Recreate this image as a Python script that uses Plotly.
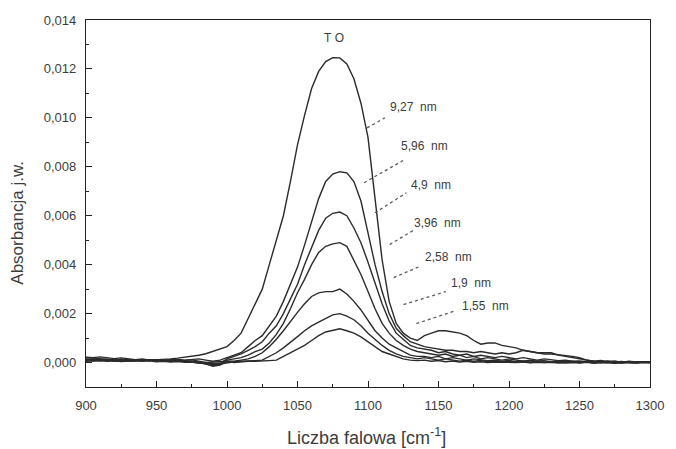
import plotly.graph_objects as go

# Wavenumber grid [cm^-1]
wavenumber = list(range(900, 1305, 5))

# FTIR absorbance spectra (TO band) for different layer thicknesses
abs_9_27 = [
    1.5e-4, 1.2e-4, 1.0e-4, 0.7e-4, 0.6e-4, 0.5e-4, 0.4e-4, 0.6e-4, 0.8e-4, 0.9e-4,
    1.1e-4, 1.3e-4, 1.5e-4, 1.8e-4, 2.1e-4, 2.5e-4, 3.0e-4, 3.6e-4, 4.5e-4, 5.5e-4,
    6.5e-4, 9.0e-4, 12e-4, 18e-4, 24e-4, 30e-4, 40e-4, 50e-4, 60e-4, 74e-4,
    89e-4, 101e-4, 112e-4, 119e-4, 123e-4, 124.6e-4, 124.5e-4, 122e-4, 116e-4, 106e-4,
    92e-4, 67e-4, 42e-4, 25e-4, 16e-4, 12e-4, 10e-4, 9e-4, 11e-4, 12e-4,
    13e-4, 13e-4, 12.5e-4, 12e-4, 11e-4, 9e-4, 7.5e-4, 8e-4, 8e-4, 7e-4,
    6.5e-4, 6e-4, 5e-4, 4.5e-4, 4e-4, 3.5e-4, 3.5e-4, 3.2e-4, 3e-4, 2.5e-4,
    2e-4, 1e-4, 0.5e-4, 0.8e-4, 0.3e-4, 0.6e-4, 0.0, 0.5e-4, 0.2e-4, 0.4e-4, 0.3e-4,
]
abs_5_96 = [
    1.0e-4, 1.3e-4, 0.9e-4, 1.1e-4, 0.8e-4, 1.0e-4, 0.7e-4, 0.9e-4, 1.0e-4, 1.2e-4,
    1.0e-4, 0.8e-4, 1.1e-4, 1.3e-4, 1.0e-4, 1.2e-4, 1.5e-4, 1.0e-4, 0.5e-4, 1.0e-4,
    2e-4, 3e-4, 4e-4, 6.5e-4, 9e-4, 11e-4, 15e-4, 19e-4, 25e-4, 32e-4,
    39e-4, 48e-4, 58e-4, 67e-4, 74e-4, 77e-4, 78e-4, 77.5e-4, 74e-4, 66e-4,
    53e-4, 40e-4, 29e-4, 20e-4, 14e-4, 11e-4, 8.5e-4, 7.5e-4, 6.5e-4, 6e-4,
    5.5e-4, 5e-4, 5e-4, 4.5e-4, 4.5e-4, 4e-4, 4.5e-4, 4e-4, 3.5e-4, 4e-4,
    3.5e-4, 4e-4, 5e-4, 4.5e-4, 4e-4, 4e-4, 4e-4, 3e-4, 2.5e-4, 2e-4,
    1.5e-4, 1e-4, 0.5e-4, 0.3e-4, 0.6e-4, 0.2e-4, 0.4e-4, 0.0, 0.3e-4, 0.1e-4, 0.2e-4,
]
abs_4_9 = [
    2.0e-4, 1.8e-4, 1.5e-4, 1.6e-4, 1.2e-4, 1.0e-4, 1.1e-4, 0.8e-4, 0.9e-4, 0.7e-4,
    1.0e-4, 0.8e-4, 1.2e-4, 1.0e-4, 0.9e-4, 1.1e-4, 0.6e-4, 0.2e-4, -0.5e-4, -0.3e-4,
    1.5e-4, 2.5e-4, 3.5e-4, 5e-4, 6.5e-4, 8.5e-4, 12e-4, 15e-4, 20e-4, 26e-4,
    32e-4, 40e-4, 47e-4, 54e-4, 59e-4, 61e-4, 61.5e-4, 60e-4, 55e-4, 49e-4,
    41e-4, 32e-4, 24e-4, 17e-4, 12e-4, 9.5e-4, 7e-4, 6e-4, 5.5e-4, 5e-4,
    4e-4, 4.5e-4, 3.5e-4, 3e-4, 3.5e-4, 2.5e-4, 3e-4, 2.5e-4, 2e-4, 2.5e-4,
    2e-4, 1.5e-4, 2e-4, 1.5e-4, 1e-4, 1.5e-4, 1e-4, 0.8e-4, 1e-4, 0.5e-4,
    0.6e-4, 0.3e-4, 0.5e-4, 0.0, 0.4e-4, -0.2e-4, 0.3e-4, 0.1e-4, -0.1e-4, 0.2e-4, 0.0,
]
abs_3_96 = [
    0.5e-4, 0.8e-4, 0.6e-4, 0.9e-4, 1.0e-4, 0.7e-4, 1.0e-4, 1.2e-4, 0.9e-4, 1.1e-4,
    0.8e-4, 1.0e-4, 0.7e-4, 0.9e-4, 0.6e-4, 0.4e-4, 0.2e-4, -0.6e-4, -1.2e-4, -0.8e-4,
    1e-4, 1.5e-4, 2e-4, 3e-4, 4.5e-4, 5.5e-4, 8e-4, 11.5e-4, 16e-4, 22e-4,
    28.5e-4, 34e-4, 40e-4, 45e-4, 47.5e-4, 48.5e-4, 49e-4, 47.5e-4, 42e-4, 36e-4,
    29e-4, 22e-4, 16e-4, 12e-4, 9e-4, 7e-4, 5.5e-4, 4.5e-4, 4e-4, 3.5e-4,
    3e-4, 3.5e-4, 2.5e-4, 3e-4, 2e-4, 2.5e-4, 1.5e-4, 2e-4, 1.5e-4, 1e-4,
    1.5e-4, 1e-4, 0.5e-4, 1e-4, 0.6e-4, 0.8e-4, 0.3e-4, 0.6e-4, 0.2e-4, 0.5e-4,
    0.0, 0.3e-4, -0.2e-4, 0.2e-4, 0.0, 0.3e-4, -0.1e-4, 0.1e-4, 0.2e-4, 0.0, 0.1e-4,
]
abs_2_58 = [
    2.2e-4, 2.0e-4, 2.3e-4, 1.8e-4, 1.6e-4, 1.9e-4, 1.4e-4, 1.2e-4, 1.5e-4, 1.0e-4,
    1.2e-4, 0.9e-4, 0.6e-4, 0.8e-4, 0.5e-4, 0.3e-4, 0.0, -0.5e-4, -1.5e-4, -1.0e-4,
    0.5e-4, 0.5e-4, 1e-4, 1.5e-4, 2.5e-4, 4e-4, 6.5e-4, 9.5e-4, 13e-4, 17e-4,
    20.5e-4, 24e-4, 27e-4, 28.5e-4, 29e-4, 29e-4, 30e-4, 28e-4, 25e-4, 21.5e-4,
    17e-4, 13e-4, 10e-4, 7.5e-4, 6e-4, 4.5e-4, 3e-4, 2.5e-4, 2.5e-4, 2e-4,
    2.5e-4, 1.5e-4, 2e-4, 1.5e-4, 1e-4, 1.5e-4, 1e-4, 0.8e-4, 1e-4, 0.5e-4,
    0.8e-4, 0.3e-4, 0.6e-4, 0.2e-4, 0.5e-4, 0.0, 0.3e-4, 0.1e-4, -0.1e-4, 0.2e-4,
    0.0, 0.2e-4, -0.2e-4, 0.1e-4, 0.0, -0.1e-4, 0.2e-4, 0.0, -0.2e-4, 0.1e-4, 0.0,
]
abs_1_9 = [
    1.2e-4, 1.5e-4, 1.1e-4, 1.3e-4, 1.0e-4, 1.4e-4, 1.1e-4, 0.9e-4, 1.2e-4, 0.8e-4,
    1.0e-4, 0.7e-4, 0.9e-4, 0.6e-4, 0.5e-4, 0.3e-4, 0.0, -0.4e-4, -0.8e-4, -0.6e-4,
    0.0, 0.3e-4, 0.5e-4, 0.5e-4, 0.8e-4, 1e-4, 2.5e-4, 4e-4, 6e-4, 8.5e-4,
    10.6e-4, 13e-4, 15e-4, 16.5e-4, 18e-4, 19.5e-4, 20e-4, 19e-4, 17.5e-4, 15e-4,
    12e-4, 9.5e-4, 7e-4, 5e-4, 3.5e-4, 2.5e-4, 2e-4, 1.5e-4, 2e-4, 1.5e-4,
    1e-4, 1.5e-4, 1e-4, 0.6e-4, 1e-4, 0.5e-4, 0.8e-4, 0.3e-4, 0.5e-4, 0.2e-4,
    0.5e-4, 0.1e-4, 0.4e-4, 0.0, 0.3e-4, 0.1e-4, 0.3e-4, -0.1e-4, 0.2e-4, 0.0,
    0.1e-4, 0.3e-4, -0.1e-4, 0.0, 0.2e-4, -0.2e-4, 0.1e-4, 0.0, 0.1e-4, -0.1e-4, 0.0,
]
abs_1_55 = [
    0.8e-4, 0.6e-4, 0.9e-4, 0.5e-4, 0.7e-4, 0.4e-4, 0.6e-4, 0.8e-4, 0.5e-4, 0.7e-4,
    0.3e-4, 0.5e-4, 0.2e-4, 0.4e-4, 0.1e-4, 0.2e-4, -0.2e-4, 0.0, 0.4e-4, 0.6e-4,
    0.5e-4, 0.0, 0.3e-4, 0.5e-4, 0.5e-4, 0.5e-4, 0.8e-4, 1e-4, 2.5e-4, 4e-4,
    5.3e-4, 7e-4, 9e-4, 11e-4, 12.5e-4, 13e-4, 13.8e-4, 13e-4, 12e-4, 10.5e-4,
    8.5e-4, 6.5e-4, 4.5e-4, 3.5e-4, 2.5e-4, 1.5e-4, 1e-4, 0.8e-4, 1e-4, 0.5e-4,
    0.8e-4, 0.3e-4, 0.6e-4, 0.2e-4, 0.5e-4, 0.1e-4, 0.3e-4, 0.0, 0.2e-4, 0.1e-4,
    0.3e-4, 0.0, 0.2e-4, -0.1e-4, 0.1e-4, 0.2e-4, 0.0, -0.1e-4, 0.1e-4, 0.0,
    -0.2e-4, 0.1e-4, 0.0, -0.1e-4, 0.1e-4, 0.0, -0.2e-4, 0.1e-4, 0.0, 0.1e-4, 0.0,
]

series = [abs_9_27, abs_5_96, abs_4_9, abs_3_96, abs_2_58, abs_1_9, abs_1_55]
series_labels = ["9,27 nm", "5,96 nm", "4,9 nm", "3,96 nm", "2,58 nm", "1,9 nm", "1,55 nm"]

# label text anchor (wavenumber, absorbance) and dotted leader (from curve to label)
label_pos = [(1132, 0.01045), (1140, 0.00886), (1145, 0.00727), (1149, 0.00571),
             (1157, 0.00433), (1173, 0.00327), (1183, 0.00233)]
leaders = [((1099.3, 0.00959), (1111.9, 0.0100)),
           ((1097.2, 0.00735), (1125.9, 0.00829)),
           ((1104.9, 0.00612), (1127.3, 0.00694)),
           ((1115.4, 0.00482), (1132.9, 0.00543)),
           ((1118.2, 0.00347), (1136.4, 0.00392)),
           ((1125.2, 0.00237), (1155.2, 0.00290)),
           ((1134.3, 0.00159), (1162.2, 0.00212))]

line_color = "#2b2b2b"
text_color = "#3c3c3c"
font_family = "Liberation Sans, Arial, sans-serif"

fig = go.Figure()
for ys, name in zip(series, series_labels):
    fig.add_trace(go.Scatter(x=wavenumber, y=ys, mode="lines", name=name,
                             line=dict(color=line_color, width=1.4),
                             showlegend=False))

for (p0, p1) in leaders:
    fig.add_shape(type="line", x0=p0[0], y0=p0[1], x1=p1[0], y1=p1[1],
                  xref="x", yref="y", line=dict(color="#5a5a5a", width=1.3, dash="dot"))

for (lx, ly), txt in zip(label_pos, series_labels):
    fig.add_annotation(x=lx, y=ly, xref="x", yref="y", text=txt.replace(" ", "\u00a0\u00a0"),
                       showarrow=False, font=dict(size=12, color=text_color, family=font_family))

fig.add_annotation(x=1076, y=0.01327, xref="x", yref="y", text="T\u00a0O", showarrow=False,
                   font=dict(size=12, color=text_color, family=font_family))

# axis titles
fig.add_annotation(x=-0.121, y=0.447, xref="paper", yref="paper", text="Absorbancja j.w.",
                   textangle=-90, showarrow=False, xanchor="center", yanchor="middle",
                   font=dict(size=17, color=text_color, family=font_family))
fig.add_annotation(x=0.497, y=-0.136, xref="paper", yref="paper",
                   text="Liczba falowa [cm<sup>-1</sup>]",
                   showarrow=False, xanchor="center", yanchor="middle",
                   font=dict(size=18, color=text_color, family=font_family))

axis_common = dict(showline=True, linecolor="#222222", linewidth=1.2, mirror=True,
                   showgrid=False, zeroline=False, ticks="inside", ticklen=6,
                   tickcolor="#222222", tickwidth=1,
                   tickfont=dict(size=13, color=text_color, family=font_family))

fig.update_xaxes(range=[900, 1300], dtick=50, tickformat="d", ticklabelstandoff=6,
                 minor=dict(dtick=25, ticks="inside", ticklen=3, tickcolor="#222222"),
                 **axis_common)
fig.update_yaxes(range=[-0.001, 0.014], dtick=0.002, tickformat=".3f", ticklabelstandoff=6,
                 minor=dict(dtick=0.001, ticks="inside", ticklen=3, tickcolor="#222222"),
                 **axis_common)

fig.update_layout(width=676, height=449, separators=", ",
                  margin=dict(l=86, r=19, t=20, b=62),
                  paper_bgcolor="white", plot_bgcolor="white",
                  font=dict(family=font_family, color=text_color))

fig.write_html("out.html")
